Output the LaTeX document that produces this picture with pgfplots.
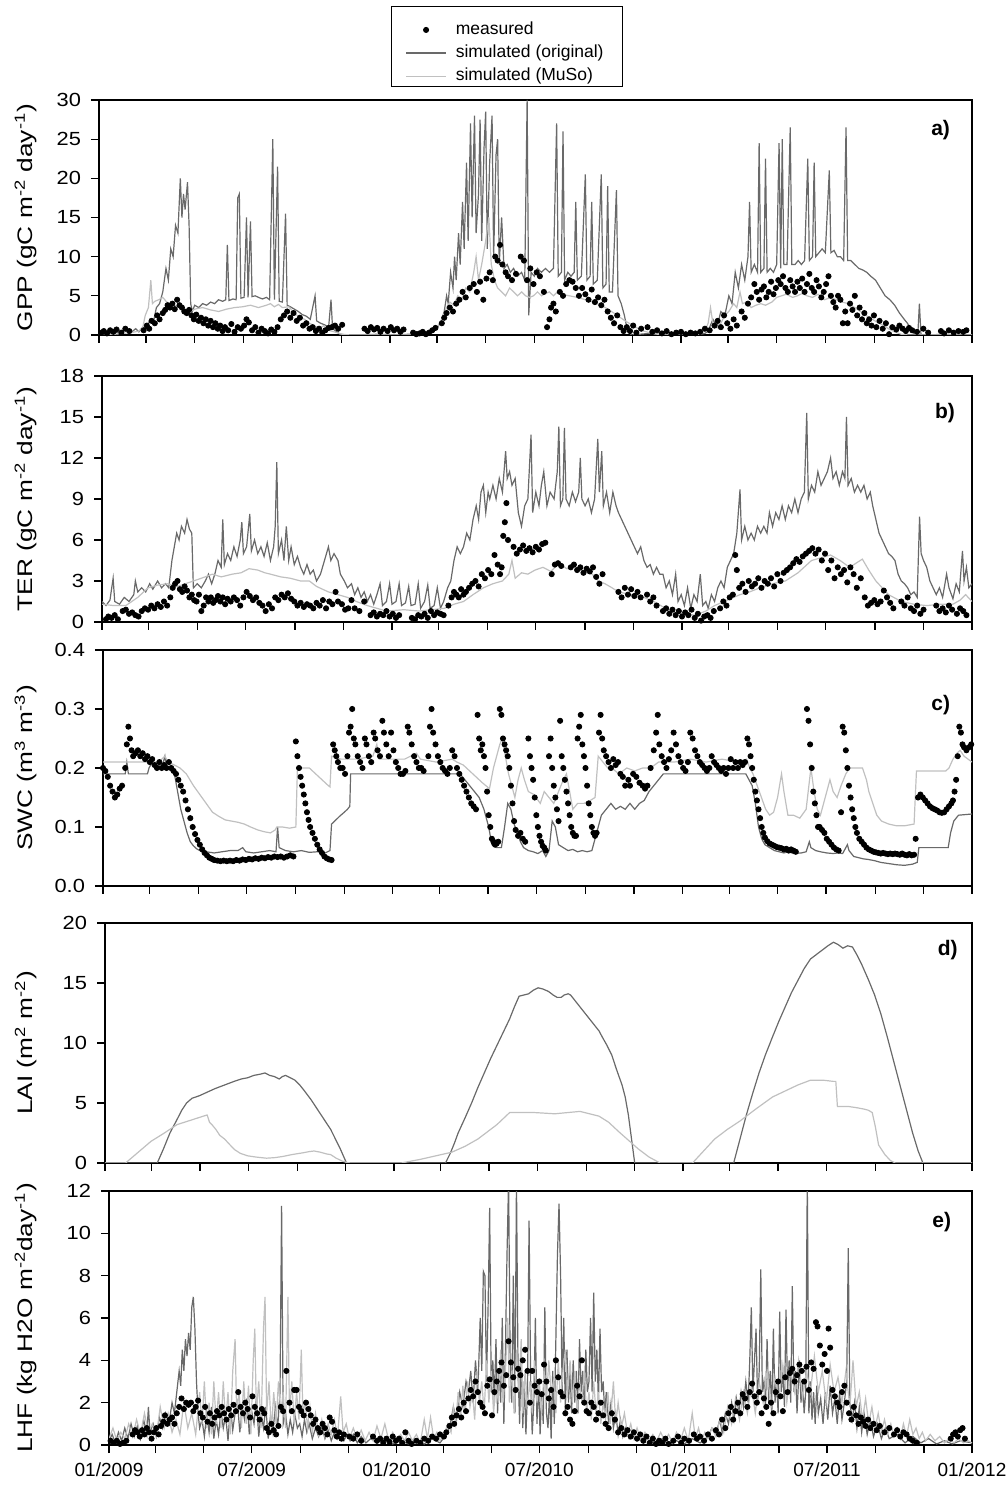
\documentclass[border=0pt]{standalone}
\usepackage{fontspec}
\setmainfont{Liberation Sans}
\newfontfamily\widefont[FakeStretch=1.25]{Liberation Sans}
\newfontfamily\tickfont[FakeStretch=1.15]{Liberation Sans}
\usepackage{pgfplots}
\pgfplotsset{compat=1.18}
\definecolor{darkgr}{RGB}{105,105,105}
\definecolor{lightgr}{RGB}{192,192,192}
\tikzset{plabel/.style={font=\bfseries\fontsize{10.5}{13}\selectfont}}
\pgfplotsset{
  panel/.style={
    scale only axis, anchor=south west,
    xmin=0, xmax=1095,
    xtick={0,59,120,181,243,304,365,424,485,546,608,669,730,789,850,911,973,1034,1095},
    xticklabels={},
    axis line style={line width=0.8pt},
    tick align=outside, xtick pos=bottom, ytick pos=left,
    major tick length=4pt,
    tick style={black, line width=0.6pt},
    /pgf/number format/assume math mode=true,
    tick label style={font=\tickfont\fontsize{9.5}{11}\selectfont},
    yticklabel style={xshift=-1.5pt},
    ylabel style={font=\widefont\fontsize{10.5}{13}\selectfont, anchor=center},
    clip mode=individual,
  },
  dk/.style={color=darkgr, line width=0.6pt, mark=none, forget plot},
  lt/.style={color=lightgr, line width=0.6pt, mark=none, forget plot},
  ms/.style={only marks, mark=*, mark size=1.3pt, black, forget plot},
  longline/.style={legend image code/.code={\draw[##1] (0pt,0pt) -- (20pt,0pt);}},
  dotlegend/.style={legend image code/.code={\fill[black] (10pt,0pt) circle (1.3pt);}},
}
\begin{document}
\begin{tikzpicture}
\useasboundingbox (0,0) rectangle (503pt,744pt);
% ---------------- a) GPP
\begin{axis}[panel, at={(49.5pt,576.5pt)}, width=436.5pt, height=117.5pt,
  ymin=0, ymax=30, ytick={0,5,...,30},
  ylabel={GPP (gC m\textsuperscript{-2} day\textsuperscript{-1})},
  ylabel style={at={(axis description cs:-0.0836,0.5)}},
  legend style={at={(0.3505,1.3483)}, anchor=north west, draw=none, fill=none,
    font=\fontsize{8.75}{10}\selectfont, inner xsep=0pt, inner ysep=0pt, row sep=0.2pt, column sep=3pt,
    nodes={inner sep=1.5pt, text height=6.5pt, text depth=1.9pt}},
  legend cell align=left]
\addlegendimage{dotlegend}
\addlegendentry{measured}
\addlegendimage{darkgr, line width=0.7pt, longline}
\addlegendentry{simulated (original)}
\addlegendimage{lightgr, line width=0.7pt, longline}
\addlegendentry{simulated (MuSo)}
\addplot[dk] coordinates {(0,0.2)(8,0.4)(12,0.1)(18,0.5)(25,0.2)(32,0.6)(40,0.3)(46,0.8)(50,0.4)(55,1.0)(60,0.8)(64,2.0)(68,1.5)(72,3.5)(76,4.0)(80,5.5)(84,8.5)(87,7)(90,11)(93,10)(96,14)(99,13)(102,20)(104,15)(106,18)(108,16)(111,19.5)(113,14)(115,4)(117,3)(120,3.8)(125,3.5)(130,4)(135,3.8)(140,4.2)(145,4)(150,4.5)(155,4.3)(159,4.5)(161,11.5)(163,4.4)(168,4.6)(172,4.5)(174,17.5)(176,18)(178,4.7)(182,4.8)(185,15)(187,4.8)(190,14.5)(192,4.9)(196,5)(200,4.8)(205,4.6)(210,4.8)(214,4.5)(218,25)(220,4.5)(224,21.5)(226,4.3)(230,4.2)(234,15.5)(236,3.8)(240,3.6)(245,3.3)(250,3.0)(255,2.6)(260,2.4)(265,2.0)(271,5)(273,1.8)(278,1.5)(283,1.3)(288,1.0)(291,4.5)(293,0.8)(297,0.5)(302,0.1)(310,0)(330,0)(350,0.1)(370,0)(390,0.1)(405,0)(415,0.3)(420,0.5)(425,1)(430,2)(433,3)(436,5)(438,4)(441,8)(444,6)(446,10)(448,7)(451,13)(453,9)(456,17)(458,11)(461,22)(463,12)(466,27)(468,15)(471,28)(473,13)(476,18)(478,27.5)(480,12)(483,24)(485,28.5)(487,11)(490,22)(493,28)(495,10)(498,23)(500,25)(502,9)(505,15)(508,8.5)(512,9)(516,8)(520,8.5)(525,7.5)(530,8)(534,7)(537,30)(539,2.5)(542,8)(546,7.5)(550,8.5)(555,8)(560,8.5)(565,8)(570,8.5)(574,27)(576,7.5)(580,8)(582,26)(584,7)(588,8)(592,7.5)(596,8)(598,17)(600,7)(605,7.5)(610,20.5)(612,7)(616,7.5)(618,17)(620,6.5)(625,7)(630,20.5)(632,6)(636,6.5)(638,19)(640,5.5)(644,5.5)(649,18.5)(651,5)(655,4)(659,2.5)(663,0.5)(668,0)(690,0.2)(710,0)(730,0.3)(750,0)(760,0.2)(764,0.5)(770,2)(775,1)(780,3)(785,2.5)(790,5)(794,4)(798,8)(802,6)(806,9)(810,7)(814,10)(816,17)(818,8)(822,9)(826,8)(828,24.5)(830,8)(834,8.5)(836,22.5)(838,8)(842,8.5)(846,8)(850,9)(853,24.5)(855,8.5)(857,25)(859,9)(863,9)(867,26.5)(869,9)(873,9)(877,9.5)(881,9)(885,9.5)(889,22.5)(891,9.5)(895,10)(897,22)(899,10)(903,10.5)(907,11)(911,10.5)(916,21)(918,10.5)(922,10.8)(926,10)(930,10)(934,9.5)(937,26.5)(939,9.5)(943,9.5)(948,9)(953,8.5)(958,8.3)(963,8)(968,7.5)(974,7)(980,6)(986,5)(992,4.5)(998,3.8)(1004,2.8)(1010,2)(1014,1.5)(1018,0.8)(1022,0.2)(1027,0)(1029,4)(1031,0)(1040,0)(1060,0.1)(1080,0)(1095,0)};
\addplot[lt] coordinates {(0,0)(20,0.1)(40,0.3)(50,0.5)(55,1)(58,2.5)(62,3.5)(65,7)(67,4)(70,4.3)(75,4.5)(80,4.8)(85,4.2)(90,4.0)(95,3.8)(100,3.5)(105,3.2)(110,3.3)(115,3.0)(120,3.3)(130,3.5)(140,3.2)(150,3.0)(160,3.3)(170,3.5)(180,3.6)(190,3.8)(200,3.5)(210,3.8)(215,4)(220,3.6)(225,3.9)(230,3.5)(238,3.6)(245,2.8)(252,2.2)(258,2.0)(264,1.5)(270,1.2)(276,0.8)(282,1.2)(288,0.6)(295,0.4)(305,0.1)(315,0)(400,0)(410,0.2)(418,0.6)(424,1)(430,2)(436,3.5)(440,4.2)(445,3.8)(450,5)(455,4.5)(460,6)(465,5.5)(470,8)(473,10)(476,7)(480,9)(485,12)(489,15)(492,9)(496,7)(500,6)(505,5.5)(510,5)(515,6)(520,5.5)(525,5)(530,5.5)(535,5)(540,4.8)(545,5)(550,5.5)(555,5)(560,5.3)(565,5.5)(570,5)(575,5.5)(580,5.2)(590,5)(600,4.8)(610,4.5)(620,4.2)(630,3.8)(640,3.2)(650,2.5)(660,1.8)(670,1.2)(680,0.6)(690,0.3)(700,0.1)(710,0)(750,0)(760,0.5)(764,1.5)(767,3.5)(770,1.5)(775,1.0)(780,1.5)(785,2.5)(790,3)(796,4)(800,3.5)(804,5.5)(807,4)(812,4.2)(818,3.5)(824,3.8)(830,4)(836,3.8)(844,4.2)(850,4.8)(856,5)(862,5.2)(870,4.8)(876,5)(882,5.3)(888,5)(895,4.8)(902,5.2)(910,4.5)(918,4.8)(925,4.5)(932,4.2)(940,4.0)(948,3.5)(955,3.0)(962,2.5)(970,2.0)(978,1.5)(985,1.2)(990,0.8)(998,0.4)(1006,0.1)(1015,0)(1095,0)};
\addplot[ms] coordinates {(3,0.3)(6,0.5)(10,0.2)(14,0.6)(18,0.4)(22,0.7)(28,0.3)(33,0.8)(38,0.5)(56,0.6)(60,1.2)(63,0.8)(66,1.8)(70,1.5)(73,2.5)(76,2.0)(80,2.8)(83,3.2)(86,3.8)(89,3.5)(92,4.0)(95,3.3)(98,4.5)(101,3.8)(104,3.5)(107,3.0)(110,2.8)(113,3.2)(116,2.5)(119,2.0)(122,2.6)(125,1.8)(128,2.2)(131,1.5)(134,2.0)(137,1.2)(140,1.8)(143,1.0)(146,1.5)(149,0.8)(152,1.2)(155,0.5)(158,1.0)(162,0.6)(166,1.4)(170,0.4)(174,1.0)(178,0.8)(182,1.2)(185,2.0)(188,1.6)(192,0.6)(196,1.0)(200,0.3)(204,0.8)(208,0.5)(212,0.2)(216,0.7)(220,0.4)(224,1.0)(228,2.0)(232,2.5)(236,3.0)(240,2.2)(244,2.8)(248,1.8)(252,2.2)(256,1.2)(260,1.5)(264,0.8)(268,1.0)(272,0.5)(276,0.8)(280,0.3)(284,0.6)(288,0.9)(292,1.0)(296,1.2)(300,0.8)(305,1.3)(333,0.8)(337,0.5)(341,1.0)(345,0.7)(349,0.9)(353,0.4)(357,0.8)(362,0.5)(366,1.0)(370,0.6)(374,0.8)(378,0.4)(382,0.7)(394,0.3)(398,0.1)(402,0.2)(406,0.4)(410,0.1)(414,0.3)(418,0.6)(422,0.9)(430,1.5)(433,2.2)(436,2.8)(440,3.5)(444,3.0)(448,4.0)(452,4.5)(456,5.5)(460,4.8)(465,6.0)(470,6.5)(474,5.5)(478,6.8)(482,4.5)(486,7.2)(490,8)(494,7)(497,10)(500,9.5)(503,11.5)(506,9)(510,8)(513,7.5)(518,7.0)(523,7.8)(529,10)(533,9.5)(537,7)(541,8.5)(545,6.5)(549,8)(553,7.5)(558,5.5)(562,1)(565,2)(567,3.5)(570,4)(573,3)(578,5.5)(582,5)(586,6.5)(590,7)(594,6.8)(598,6)(602,5)(606,6)(610,5.2)(614,4.5)(618,5.8)(622,4.2)(626,4.8)(630,3.8)(634,4.5)(638,3)(642,2.2)(646,1.5)(650,2.5)(654,1.0)(658,0.5)(662,1.0)(666,0.5)(670,1.2)(674,0.3)(680,0.8)(688,1.0)(694,0.4)(700,0.6)(706,0.2)(712,0.5)(718,0.1)(724,0.3)(730,0.4)(736,0.1)(742,0.3)(748,0.2)(754,0.4)(760,0.8)(766,0.6)(772,1.2)(776,1.8)(780,1.0)(784,2.5)(788,1.5)(792,0.8)(796,2.0)(800,1.2)(806,3.0)(810,2.2)(814,4.0)(818,4.8)(822,6.5)(825,5.5)(828,4.5)(831,5.8)(834,6.2)(837,4.8)(840,5.5)(843,6.8)(846,5.2)(849,6.0)(852,7.0)(855,6.5)(858,7.5)(861,6.0)(864,5.5)(867,7.0)(870,6.2)(873,5.5)(876,6.8)(879,6.0)(882,7.2)(885,5.5)(888,6.5)(891,7.8)(894,6.0)(897,5.5)(900,7.0)(903,6.2)(906,4.8)(909,5.5)(912,6.5)(915,7.5)(918,5.0)(921,4.2)(924,3.5)(927,5.0)(930,4.5)(933,1.5)(936,3.0)(939,1.5)(942,4.0)(945,3.2)(948,5.0)(951,2.5)(954,3.5)(957,2.0)(960,2.8)(963,1.5)(966,2.0)(969,1.2)(972,2.5)(975,1.0)(979,1.8)(983,0.8)(987,1.5)(991,0.1)(995,1.0)(1000,0.7)(1004,1.2)(1008,0.8)(1012,0.5)(1016,0.9)(1020,0.6)(1026,0.4)(1034,0.8)(1040,0.3)(1056,0.5)(1060,0.2)(1066,0.6)(1072,0.3)(1078,0.5)(1084,0.4)(1088,0.6)};
\draw[black, line width=0.5pt] (axis description cs:0.3356,1.0553) rectangle (axis description cs:0.5991,1.3957);
\node[plabel] at (rel axis cs:0.964,0.872) {a)};
\end{axis}
% ---------------- b) TER
\begin{axis}[panel, at={(51pt,433pt)}, width=435pt, height=123pt,
  ymin=0, ymax=18, ytick={0,3,...,18},
  ylabel={TER (gC m\textsuperscript{-2} day\textsuperscript{-1})},
  ylabel style={at={(axis description cs:-0.0874,0.5)}}]
\addplot[dk] coordinates {(0,1.5)(5,1.2)(10,1.6)(14,3.2)(16,1.5)(22,1.3)(28,1.8)(34,1.5)(40,2.0)(42,3.0)(45,2.2)(50,2.5)(55,2.2)(60,2.8)(64,2.4)(70,3.0)(75,2.5)(80,2.8)(84,2.5)(88,4.5)(91,5.5)(94,6.5)(97,6.0)(100,7.0)(104,6.5)(107,7.5)(110,6.8)(113,6.5)(115,2.5)(120,2.8)(125,2.5)(130,3.0)(134,3.5)(138,2.8)(142,3.5)(146,4.5)(150,4.0)(152,7.5)(154,4.2)(158,5.0)(162,4.5)(166,5.5)(170,4.8)(174,6.0)(176,7.3)(178,5.0)(182,5.5)(186,7.9)(188,5.2)(192,6.0)(196,5.0)(200,5.5)(204,4.8)(208,5.8)(212,4.5)(216,5.5)(218,7.0)(220,11.7)(222,5.0)(226,6.0)(229,4.5)(232,7.0)(235,4.5)(238,5.5)(242,4.2)(246,4.8)(250,4.0)(254,3.5)(258,4.2)(262,3.5)(266,3.8)(270,3.0)(275,3.5)(280,4.5)(285,5.5)(288,4.5)(292,5.0)(297,4.5)(300,3.5)(305,3.0)(309,2.5)(314,2.8)(318,2.0)(322,2.5)(326,1.8)(330,2.2)(334,1.5)(338,2.0)(342,1.3)(346,2.0)(350,2.8)(353,1.2)(358,1.5)(362,2.8)(365,1.3)(370,1.5)(374,2.8)(377,1.2)(382,1.4)(386,2.6)(389,1.2)(394,1.3)(398,2.8)(401,1.0)(406,1.5)(410,2.7)(413,1.0)(418,1.2)(422,2.5)(426,1.0)(430,1.5)(435,2.5)(439,3.0)(443,4.5)(447,5.5)(451,5.0)(455,5.5)(459,6.5)(463,6.0)(467,7.5)(471,8.5)(474,7.5)(477,9.5)(480,10.0)(483,8.0)(486,9.5)(488,9.0)(492,10.0)(496,9.0)(500,10.5)(504,9.5)(508,12.5)(510,10.5)(513,11.0)(516,10.0)(520,10.5)(524,8.0)(528,7.0)(532,8.5)(536,9.0)(540,13.7)(542,8.0)(546,9.5)(550,8.5)(553,10.0)(556,11.0)(560,8.5)(564,9.5)(569,9.0)(573,11.0)(575,14.3)(577,8.5)(580,9.0)(582,14.2)(584,9.0)(588,8.5)(592,9.5)(596,8.8)(600,9.5)(602,12.0)(604,9.0)(608,8.5)(612,9.0)(616,8.0)(620,9.0)(624,13.4)(626,9.5)(629,12.5)(631,8.5)(635,9.5)(639,8.0)(643,9.5)(647,8.5)(650,8.0)(654,7.5)(658,7.0)(662,6.5)(666,6.0)(670,5.5)(674,5.0)(678,5.5)(682,4.5)(686,4.0)(690,4.2)(694,3.5)(698,4.0)(702,3.5)(706,3.5)(710,2.5)(714,3.0)(718,2.0)(722,3.5)(725,1.5)(729,2.0)(733,1.2)(737,2.5)(741,1.0)(745,2.0)(749,1.5)(753,3.5)(756,1.2)(760,1.5)(763,1.0)(767,2.0)(771,1.5)(775,2.5)(779,3.0)(783,2.5)(787,4.0)(791,4.5)(795,5.0)(799,6.5)(803,9.7)(805,6.0)(809,7.0)(813,6.0)(817,6.5)(821,6.0)(825,7.0)(829,6.5)(833,7.0)(837,6.5)(840,8.0)(844,7.0)(848,8.0)(852,7.5)(856,8.5)(860,7.5)(864,8.5)(868,8.0)(872,9.0)(876,8.0)(880,9.0)(884,9.5)(887,15.3)(889,9.0)(893,10.0)(897,9.5)(901,11.0)(905,10.0)(909,10.5)(913,11.0)(917,12.0)(920,10.5)(924,11.0)(928,10.0)(932,11.0)(935,10.5)(937,15.0)(939,10.0)(943,10.5)(947,9.5)(951,10.0)(955,9.5)(959,10.0)(963,9.0)(967,9.5)(970,8.5)(974,7.5)(978,6.5)(982,6.0)(986,5.5)(990,5.0)(994,4.8)(998,4.5)(1002,3.5)(1006,3.0)(1010,2.8)(1014,2.5)(1018,2.0)(1022,2.2)(1026,1.8)(1029,7.7)(1031,5.0)(1034,4.5)(1038,4.0)(1042,3.0)(1046,2.5)(1050,2.0)(1054,2.5)(1058,1.8)(1063,3.5)(1066,2.5)(1071,1.7)(1075,2.8)(1079,2.2)(1083,5.2)(1085,3.0)(1088,4.0)(1091,2.5)(1095,2.8)};
\addplot[lt] coordinates {(0,1.3)(15,1.2)(30,1.2)(45,1.8)(58,2.5)(70,2.7)(83,2.8)(95,2.6)(105,2.8)(115,3.0)(125,3.2)(139,3.5)(150,3.3)(164,3.5)(175,3.6)(185,3.9)(196,3.8)(205,3.6)(212,3.5)(225,3.3)(237,3.2)(250,3.0)(261,3.0)(270,2.6)(285,2.2)(297,2.0)(309,1.8)(320,1.5)(334,1.2)(346,1.0)(358,0.8)(380,0.9)(399,0.8)(415,0.9)(431,1.0)(443,1.3)(455,1.5)(467,2.0)(480,2.5)(492,2.8)(504,3.0)(512,3.5)(516,4.5)(520,3.2)(528,3.6)(536,3.5)(545,3.8)(555,4.0)(565,3.7)(575,4.3)(585,3.9)(595,4.0)(601,3.8)(610,3.6)(617,3.5)(625,3.0)(633,2.8)(642,2.5)(650,2.2)(666,2.0)(682,1.8)(698,1.4)(714,0.8)(730,0.6)(747,0.5)(760,0.8)(771,1.2)(787,1.6)(803,2.0)(815,2.2)(828,2.5)(844,2.8)(860,3.0)(876,3.6)(893,4.5)(905,4.7)(917,4.9)(929,4.5)(941,4.0)(949,4.3)(957,4.6)(965,3.8)(974,3.0)(990,2.0)(1006,1.5)(1022,1.3)(1038,1.2)(1055,1.3)(1071,1.3)(1080,1.6)(1087,2.0)(1095,1.5)};
\addplot[ms] coordinates {(5,0.2)(8,0.4)(12,0.3)(16,0.5)(20,0.2)(26,0.8)(30,0.9)(34,0.6)(38,0.7)(42,0.5)(46,0.4)(50,0.8)(54,1.0)(58,0.9)(62,1.2)(66,1.0)(70,1.3)(74,1.1)(78,1.5)(82,1.2)(86,1.8)(89,2.5)(92,2.8)(95,3.0)(98,2.4)(101,2.2)(104,2.6)(107,2.3)(110,1.8)(113,2.0)(116,1.6)(119,1.5)(122,2.0)(125,0.8)(128,1.2)(131,1.8)(134,1.5)(137,1.8)(140,1.4)(143,1.6)(146,1.9)(149,1.5)(152,1.8)(155,1.3)(158,1.7)(162,1.5)(166,1.8)(170,1.6)(174,1.2)(178,1.8)(182,2.2)(186,1.9)(190,1.6)(194,1.8)(198,1.4)(202,1.2)(206,0.8)(210,1.3)(214,1.0)(218,1.8)(222,1.6)(226,2.0)(230,1.8)(234,2.1)(238,1.7)(242,1.5)(246,1.2)(250,1.4)(254,1.1)(258,1.3)(262,1.2)(266,1.0)(270,1.4)(274,1.2)(278,1.6)(282,1.0)(286,1.5)(290,1.3)(294,2.2)(297,1.5)(302,1.3)(306,0.9)(310,1.0)(314,1.6)(318,1.0)(324,0.8)(330,1.5)(338,0.5)(342,0.7)(346,0.4)(350,0.6)(354,0.5)(358,0.8)(362,0.4)(366,0.6)(370,0.3)(374,0.5)(390,0.3)(394,0.2)(398,0.5)(402,0.4)(406,0.6)(410,0.3)(414,0.8)(418,0.5)(422,0.7)(426,0.6)(430,0.5)(436,1.2)(440,1.8)(443,2.2)(446,2.0)(449,1.8)(452,2.4)(455,2.0)(458,2.2)(462,2.5)(466,2.8)(470,3.0)(474,2.6)(478,3.5)(482,3.2)(486,3.8)(490,3.5)(494,4.9)(498,4.2)(501,3.5)(503,4.0)(505,6.3)(507,7.3)(509,8.7)(511,6.0)(518,5.5)(522,5.0)(526,5.3)(530,5.6)(534,5.2)(538,5.4)(542,5.1)(546,5.5)(550,5.3)(554,5.7)(558,5.8)(566,3.5)(570,4.2)(574,4.3)(578,4.1)(590,4.0)(594,4.2)(598,3.8)(602,4.0)(606,3.6)(610,3.9)(614,3.7)(618,4.0)(622,3.3)(626,2.8)(630,3.5)(650,2.2)(654,1.8)(658,2.5)(662,2.0)(666,2.4)(670,1.9)(674,2.2)(678,1.8)(686,2.0)(690,1.5)(694,1.8)(698,1.2)(706,0.8)(710,1.0)(714,0.6)(718,0.9)(722,0.5)(726,0.8)(730,0.4)(734,0.7)(738,0.5)(742,0.9)(746,0.3)(750,0.6)(754,0.1)(758,0.4)(762,0.5)(766,0.3)(770,0.8)(778,1.0)(782,1.5)(786,1.2)(790,1.8)(794,2.0)(797,4.9)(799,3.8)(802,2.5)(806,2.8)(810,2.2)(814,3.0)(818,2.6)(822,2.8)(826,3.2)(830,2.5)(834,3.0)(838,2.8)(842,3.2)(846,2.6)(850,3.5)(854,3.0)(858,3.6)(862,3.8)(866,4.0)(870,4.3)(874,4.6)(878,4.4)(882,4.8)(886,5.0)(890,5.2)(894,5.4)(898,5.0)(902,5.3)(906,4.5)(910,5.0)(914,3.8)(918,4.5)(922,3.2)(926,4.0)(930,3.5)(934,3.8)(938,2.9)(942,4.0)(946,3.5)(950,2.5)(955,3.2)(960,1.8)(964,1.2)(968,1.4)(972,1.6)(976,1.3)(980,1.5)(984,2.3)(988,1.8)(992,1.4)(996,1.0)(1006,1.5)(1010,1.2)(1014,1.8)(1018,1.0)(1022,0.8)(1026,1.2)(1030,0.6)(1034,0.9)(1050,1.2)(1054,0.8)(1058,1.0)(1062,0.7)(1066,1.2)(1070,0.9)(1076,0.6)(1080,1.0)(1084,0.8)(1088,0.5)};
\node[plabel] at (rel axis cs:0.969,0.85) {b)};
\end{axis}
% ---------------- c) SWC
\begin{axis}[panel, at={(51.5pt,301pt)}, width=434.5pt, height=118pt,
  ymin=0, ymax=0.4, ytick={0,0.1,...,0.4},
  yticklabel style={/pgf/number format/.cd, fixed, fixed zerofill, precision=1},
  ylabel={SWC (m\textsuperscript{3} m\textsuperscript{-3})},
  ylabel style={at={(axis description cs:-0.0886,0.5)}}]
\addplot[dk] coordinates {(0,0.19)(28,0.19)(30,0.21)(32,0.19)(56,0.19)(58,0.2)(62,0.21)(66,0.2)(70,0.205)(74,0.2)(78,0.22)(80,0.2)(86,0.195)(90,0.19)(94,0.16)(98,0.13)(102,0.11)(106,0.09)(110,0.075)(114,0.068)(118,0.063)(122,0.06)(130,0.058)(140,0.056)(150,0.058)(160,0.06)(170,0.06)(176,0.065)(180,0.058)(190,0.056)(200,0.058)(210,0.06)(218,0.058)(220,0.1)(222,0.065)(230,0.06)(240,0.058)(250,0.06)(260,0.057)(270,0.058)(280,0.056)(286,0.06)(288,0.105)(292,0.11)(298,0.118)(304,0.125)(308,0.13)(311,0.135)(312,0.19)(450,0.19)(456,0.18)(462,0.17)(468,0.16)(474,0.15)(480,0.13)(486,0.1)(490,0.07)(496,0.065)(502,0.065)(506,0.1)(510,0.14)(514,0.13)(518,0.105)(522,0.09)(526,0.075)(530,0.065)(536,0.06)(542,0.058)(548,0.055)(554,0.06)(558,0.05)(562,0.06)(566,0.11)(570,0.1)(574,0.07)(580,0.065)(586,0.06)(592,0.062)(598,0.058)(604,0.06)(610,0.058)(616,0.06)(620,0.08)(624,0.1)(628,0.12)(634,0.13)(640,0.14)(646,0.13)(652,0.135)(658,0.13)(664,0.14)(670,0.13)(676,0.14)(682,0.145)(688,0.16)(694,0.17)(700,0.18)(706,0.19)(810,0.19)(814,0.18)(818,0.17)(822,0.14)(826,0.1)(830,0.08)(834,0.07)(840,0.065)(846,0.06)(852,0.058)(858,0.056)(864,0.058)(870,0.055)(880,0.056)(886,0.058)(890,0.075)(892,0.065)(898,0.06)(904,0.058)(912,0.056)(920,0.055)(926,0.056)(932,0.055)(938,0.07)(940,0.06)(946,0.05)(952,0.048)(958,0.046)(964,0.045)(972,0.043)(980,0.04)(990,0.038)(1000,0.036)(1010,0.035)(1020,0.037)(1026,0.04)(1028,0.065)(1065,0.065)(1068,0.09)(1072,0.11)(1078,0.12)(1095,0.122)};
\addplot[lt] coordinates {(0,0.21)(70,0.21)(78,0.22)(82,0.21)(90,0.205)(97,0.2)(105,0.19)(114,0.17)(122,0.155)(130,0.14)(138,0.125)(146,0.118)(154,0.112)(162,0.11)(170,0.108)(178,0.105)(186,0.1)(195,0.095)(203,0.092)(211,0.09)(217,0.095)(219,0.1)(226,0.1)(235,0.098)(243,0.1)(245,0.2)(252,0.2)(260,0.2)(268,0.19)(276,0.18)(284,0.17)(286,0.168)(288,0.22)(300,0.215)(320,0.215)(340,0.22)(345,0.24)(348,0.215)(380,0.215)(395,0.225)(400,0.215)(420,0.21)(440,0.215)(446,0.21)(454,0.205)(462,0.195)(470,0.185)(478,0.175)(487,0.165)(492,0.2)(496,0.22)(500,0.24)(503,0.25)(507,0.22)(511,0.19)(515,0.17)(519,0.15)(523,0.18)(527,0.2)(531,0.18)(536,0.16)(543,0.155)(551,0.14)(556,0.16)(562,0.15)(568,0.14)(574,0.16)(580,0.18)(584,0.19)(588,0.16)(592,0.13)(598,0.14)(606,0.14)(614,0.145)(620,0.15)(624,0.22)(630,0.21)(636,0.2)(641,0.2)(650,0.19)(660,0.2)(670,0.195)(680,0.2)(690,0.2)(700,0.21)(720,0.21)(740,0.215)(760,0.21)(780,0.215)(800,0.21)(811,0.215)(815,0.2)(819,0.19)(823,0.175)(827,0.16)(831,0.145)(835,0.13)(840,0.12)(845,0.125)(850,0.15)(855,0.19)(858,0.16)(863,0.12)(870,0.12)(878,0.115)(886,0.13)(892,0.2)(896,0.16)(900,0.13)(904,0.12)(910,0.15)(916,0.18)(920,0.16)(925,0.15)(930,0.17)(936,0.19)(941,0.2)(950,0.2)(957,0.2)(962,0.18)(965,0.16)(970,0.14)(975,0.12)(981,0.11)(990,0.105)(1000,0.102)(1010,0.102)(1022,0.105)(1025,0.195)(1062,0.195)(1066,0.2)(1071,0.215)(1076,0.225)(1080,0.23)(1085,0.22)(1095,0.21)};
\addplot[ms] coordinates {(0,0.2)(3,0.195)(6,0.185)(9,0.17)(12,0.16)(15,0.15)(18,0.155)(21,0.165)(24,0.17)(28,0.2)(30,0.24)(32,0.27)(34,0.25)(36,0.23)(38,0.22)(41,0.225)(44,0.23)(47,0.22)(50,0.225)(53,0.215)(56,0.22)(59,0.21)(62,0.215)(65,0.205)(68,0.2)(71,0.21)(74,0.2)(77,0.205)(80,0.2)(83,0.21)(86,0.2)(89,0.195)(92,0.19)(95,0.18)(98,0.17)(101,0.16)(104,0.145)(107,0.13)(110,0.115)(113,0.1)(116,0.088)(119,0.078)(122,0.07)(125,0.062)(128,0.056)(131,0.052)(134,0.048)(137,0.046)(140,0.044)(144,0.043)(148,0.042)(152,0.043)(156,0.042)(160,0.043)(164,0.042)(168,0.044)(172,0.043)(176,0.045)(180,0.044)(184,0.046)(188,0.045)(192,0.047)(196,0.046)(200,0.048)(204,0.047)(208,0.049)(212,0.048)(216,0.05)(220,0.049)(224,0.05)(228,0.048)(232,0.05)(236,0.052)(240,0.05)(243,0.245)(245,0.22)(247,0.2)(249,0.185)(251,0.17)(253,0.155)(255,0.14)(257,0.125)(259,0.112)(261,0.1)(264,0.09)(267,0.08)(270,0.07)(273,0.062)(276,0.056)(279,0.05)(282,0.047)(285,0.045)(288,0.044)(290,0.24)(292,0.23)(294,0.22)(296,0.21)(299,0.2)(302,0.2)(305,0.19)(308,0.22)(310,0.26)(312,0.27)(314,0.3)(316,0.25)(318,0.24)(321,0.22)(324,0.21)(327,0.2)(330,0.25)(332,0.24)(335,0.22)(338,0.21)(341,0.26)(343,0.25)(346,0.23)(349,0.22)(352,0.28)(354,0.26)(357,0.24)(360,0.22)(363,0.26)(366,0.23)(369,0.21)(372,0.2)(375,0.19)(378,0.19)(381,0.195)(384,0.27)(386,0.26)(389,0.24)(392,0.22)(395,0.21)(398,0.2)(401,0.2)(404,0.195)(410,0.22)(412,0.27)(414,0.3)(416,0.26)(419,0.24)(422,0.22)(425,0.21)(428,0.2)(431,0.195)(434,0.19)(437,0.2)(440,0.23)(443,0.22)(446,0.2)(449,0.19)(452,0.18)(455,0.17)(458,0.16)(461,0.15)(464,0.14)(467,0.135)(470,0.13)(472,0.29)(474,0.25)(476,0.23)(478,0.24)(480,0.22)(482,0.2)(484,0.16)(486,0.12)(488,0.1)(490,0.08)(492,0.075)(494,0.07)(496,0.072)(498,0.075)(500,0.3)(502,0.29)(504,0.25)(506,0.24)(508,0.23)(510,0.22)(512,0.2)(514,0.17)(516,0.14)(518,0.11)(520,0.095)(523,0.085)(526,0.09)(529,0.08)(532,0.075)(536,0.25)(538,0.22)(540,0.2)(542,0.18)(544,0.15)(546,0.12)(548,0.1)(550,0.085)(552,0.075)(554,0.068)(556,0.065)(558,0.06)(562,0.22)(564,0.25)(566,0.2)(568,0.17)(570,0.15)(572,0.13)(574,0.11)(576,0.28)(578,0.22)(580,0.2)(582,0.18)(584,0.16)(586,0.14)(588,0.12)(590,0.1)(592,0.09)(594,0.085)(596,0.085)(598,0.25)(600,0.27)(602,0.29)(604,0.24)(606,0.22)(608,0.2)(610,0.17)(612,0.14)(614,0.12)(616,0.1)(618,0.09)(620,0.085)(622,0.09)(625,0.26)(627,0.29)(629,0.25)(631,0.23)(634,0.22)(637,0.21)(640,0.2)(643,0.215)(646,0.205)(649,0.21)(652,0.19)(655,0.185)(658,0.17)(662,0.18)(664,0.17)(668,0.19)(672,0.185)(676,0.175)(680,0.17)(683,0.165)(686,0.17)(690,0.2)(694,0.23)(697,0.26)(699,0.29)(701,0.24)(704,0.22)(707,0.21)(710,0.2)(713,0.215)(716,0.23)(719,0.26)(722,0.24)(725,0.22)(728,0.21)(731,0.2)(734,0.195)(737,0.21)(740,0.26)(743,0.25)(746,0.23)(749,0.22)(752,0.21)(755,0.205)(758,0.2)(761,0.195)(764,0.2)(767,0.22)(770,0.21)(773,0.205)(776,0.2)(779,0.195)(782,0.2)(785,0.19)(788,0.2)(791,0.215)(794,0.2)(797,0.21)(800,0.2)(803,0.21)(806,0.205)(809,0.21)(812,0.25)(814,0.24)(816,0.22)(818,0.2)(820,0.18)(822,0.16)(824,0.145)(826,0.13)(828,0.115)(830,0.1)(832,0.09)(834,0.082)(837,0.076)(840,0.072)(843,0.07)(846,0.068)(849,0.066)(852,0.065)(855,0.064)(858,0.062)(861,0.063)(864,0.06)(867,0.062)(870,0.06)(873,0.058)(887,0.3)(889,0.28)(891,0.24)(893,0.2)(895,0.16)(897,0.14)(899,0.12)(901,0.1)(903,0.1)(906,0.095)(909,0.09)(912,0.08)(915,0.075)(918,0.07)(921,0.065)(924,0.062)(927,0.06)(930,0.125)(932,0.27)(934,0.26)(936,0.23)(938,0.2)(940,0.17)(942,0.15)(944,0.13)(946,0.115)(948,0.1)(950,0.09)(953,0.08)(956,0.075)(959,0.07)(962,0.065)(965,0.062)(968,0.06)(971,0.058)(974,0.057)(977,0.056)(980,0.055)(983,0.056)(986,0.055)(989,0.054)(992,0.055)(995,0.054)(998,0.055)(1001,0.054)(1004,0.053)(1007,0.055)(1010,0.053)(1013,0.052)(1016,0.054)(1019,0.052)(1022,0.053)(1024,0.08)(1027,0.15)(1030,0.155)(1033,0.15)(1036,0.145)(1039,0.14)(1042,0.135)(1045,0.132)(1048,0.13)(1051,0.128)(1054,0.125)(1057,0.124)(1060,0.125)(1063,0.13)(1066,0.135)(1069,0.14)(1071,0.145)(1073,0.16)(1075,0.18)(1077,0.22)(1079,0.27)(1081,0.26)(1083,0.24)(1085,0.235)(1088,0.23)(1091,0.235)(1094,0.24)};
\node[plabel] at (rel axis cs:0.964,0.767) {c)};
\end{axis}
% ---------------- d) LAI
\begin{axis}[panel, at={(52.5pt,162.5pt)}, width=433.5pt, height=120pt,
  ymin=0, ymax=20, ytick={0,5,...,20},
  ylabel={LAI (m\textsuperscript{2} m\textsuperscript{-2})},
  ylabel style={at={(axis description cs:-0.0911,0.5)}}]
\addplot[dk] coordinates {(0,0)(66,0)(74,1.2)(82,2.5)(90,3.5)(97,4.4)(103,5.0)(110,5.4)(119,5.6)(129,5.9)(139,6.2)(151,6.5)(163,6.8)(172,7.0)(180,7.1)(188,7.3)(196,7.4)(202,7.5)(208,7.3)(214,7.2)(220,7.0)(224,7.2)(228,7.3)(234,7.1)(240,6.9)(246,6.5)(252,6.0)(260,5.3)(268,4.5)(276,3.7)(285,2.8)(291,2.0)(297,1.2)(301,0.6)(305,0)(430,0)(436,0.8)(441,1.6)(446,2.5)(455,3.8)(463,5.0)(471,6.3)(479,7.5)(487,8.7)(495,9.8)(503,10.9)(511,12.0)(517,13.0)(523,13.9)(529,14.0)(535,14.1)(541,14.4)(547,14.6)(553,14.5)(560,14.3)(566,14.0)(571,13.8)(576,13.8)(580,14.0)(585,14.1)(588,14.0)(594,13.5)(600,13.0)(606,12.5)(612,12.0)(618,11.5)(624,11.0)(628,10.5)(634,9.8)(640,9.0)(646,7.8)(653,6.5)(657,5.5)(661,4.0)(665,2.0)(669,0)(794,0)(798,1.0)(802,2.0)(810,4.0)(818,5.8)(826,7.5)(834,9.0)(843,10.5)(851,11.8)(859,13.0)(867,14.2)(875,15.2)(883,16.2)(891,17.0)(899,17.4)(907,17.8)(913,18.1)(920,18.4)(926,18.2)(932,17.9)(938,18.1)(944,18.0)(950,17.3)(956,16.5)(964,15.3)(972,14.0)(980,12.4)(988,10.5)(996,8.5)(1004,6.5)(1012,4.5)(1020,2.5)(1027,1.0)(1033,0)(1095,0)};
\addplot[lt] coordinates {(0,0)(26,0)(42,0.9)(58,1.8)(75,2.5)(91,3.2)(110,3.6)(124,3.9)(129,4.0)(132,3.4)(135,3.2)(140,2.8)(145,2.3)(151,2.0)(158,1.5)(164,1.1)(171,0.8)(180,0.6)(190,0.5)(204,0.4)(215,0.45)(225,0.55)(236,0.7)(250,0.85)(258,0.95)(264,1.0)(272,0.9)(280,0.75)(285,0.7)(292,0.4)(300,0.15)(305,0.05)(310,0)(374,0)(386,0.15)(398,0.3)(418,0.6)(438,0.9)(455,1.4)(471,2.0)(483,2.6)(495,3.2)(503,3.7)(511,4.2)(527,4.2)(543,4.2)(556,4.15)(568,4.1)(584,4.2)(600,4.3)(612,4.1)(624,3.9)(636,3.4)(649,2.6)(661,1.9)(673,1.2)(687,0.5)(701,0)(742,0)(756,1.0)(770,2.0)(786,2.8)(802,3.5)(822,4.5)(843,5.5)(859,6.0)(875,6.5)(891,6.9)(907,6.9)(920,6.8)(923,6.8)(925,4.7)(940,4.7)(950,4.6)(958,4.5)(964,4.4)(969,4.2)(973,3.0)(977,1.5)(985,0.7)(992,0.2)(998,0)(1095,0)};
\node[plabel] at (rel axis cs:0.972,0.8875) {d)};
\end{axis}
% ---------------- e) LHF
\begin{axis}[panel, at={(54.5pt,21.5pt)}, width=431.5pt, height=127pt,
  ymin=0, ymax=12, ytick={0,2,...,12},
  xticklabels={01/2009,,,07/2009,,,01/2010,,,07/2010,,,01/2011,,,07/2011,,,01/2012},
  xticklabel style={font=\fontsize{9.5}{11}\selectfont, yshift=-1.5pt},
  ylabel={LHF (kg H2O m\textsuperscript{-2}day\textsuperscript{-1})},
  ylabel style={at={(axis description cs:-0.0962,0.5)}}]
\addplot[dk] coordinates {(0,0.2)(4,0.5)(8,0.1)(12,0.6)(16,0.2)(20,0.8)(24,0.3)(28,1.0)(32,0.4)(36,0.9)(40,0.3)(44,1.2)(48,0.5)(50,1.8)(52,0.6)(56,1.0)(60,0.4)(64,1.3)(68,0.8)(72,1.5)(76,1.0)(80,2.0)(83,1.5)(86,2.5)(89,3.5)(91,2.8)(93,4.5)(95,3.5)(97,5.0)(99,4.2)(101,5.3)(103,4.5)(105,6.5)(107,7.0)(109,5.5)(111,3.0)(113,1.5)(115,0.8)(118,1.2)(121,0.4)(124,1.5)(127,0.6)(130,1.8)(133,0.3)(136,1.2)(139,0.5)(142,1.6)(145,0.8)(148,1.4)(151,0.2)(154,1.8)(157,0.7)(160,1.5)(163,2.0)(166,0.6)(169,1.8)(172,1.2)(175,2.2)(178,0.5)(181,1.6)(184,1.0)(187,2.2)(190,0.4)(193,1.5)(196,0.8)(199,1.8)(202,0.3)(205,1.4)(208,0.6)(211,1.8)(214,0.8)(217,2.5)(219,11.3)(221,1.0)(224,1.5)(227,0.5)(230,1.2)(233,0.6)(236,1.4)(239,0.8)(242,1.0)(245,0.4)(248,1.2)(251,0.6)(254,1.0)(258,0.3)(262,0.8)(266,0.4)(270,0.9)(274,0.3)(278,0.7)(282,0.2)(286,0.6)(290,0.3)(294,0.6)(298,0.2)(302,0.5)(306,0.2)(310,0.5)(315,0.1)(320,0.4)(326,0.1)(332,0.3)(340,0.1)(350,0.3)(360,0.05)(370,0.2)(380,0.05)(390,0.2)(400,0.05)(410,0.3)(420,0.1)(428,0.5)(433,1.0)(437,1.8)(441,1.2)(445,2.5)(449,1.8)(453,3.0)(456,2.5)(459,3.5)(462,2.0)(465,4.0)(468,2.5)(471,6.0)(473,3.5)(475,8.2)(477,8.0)(479,3.0)(481,6.5)(483,11.2)(485,2.5)(487,4.0)(489,2.0)(491,5.0)(493,1.5)(495,3.5)(497,2.0)(499,6.0)(501,1.0)(503,4.5)(505,9.0)(507,12.5)(509,4.0)(511,2.0)(513,8.0)(515,1.5)(517,12.5)(519,3.5)(521,1.0)(523,4.5)(525,0.8)(527,3.0)(529,0.5)(531,2.5)(533,10.6)(535,3.0)(537,0.5)(539,2.0)(541,6.0)(543,1.0)(545,3.0)(547,0.5)(549,2.5)(551,1.0)(553,6.5)(555,1.5)(557,0.8)(559,2.5)(561,0.3)(563,3.5)(565,1.0)(567,5.0)(569,9.0)(571,11.4)(573,8.0)(575,2.5)(577,6.0)(579,1.5)(581,4.5)(583,2.0)(585,3.5)(587,1.5)(589,4.0)(591,2.0)(593,3.5)(595,1.5)(597,5.0)(599,2.5)(601,3.5)(603,2.0)(605,4.5)(607,2.5)(609,3.0)(611,6.0)(613,2.5)(615,7.2)(617,3.0)(619,4.5)(621,2.0)(623,5.5)(625,2.5)(627,3.0)(629,1.5)(631,2.5)(634,1.0)(637,2.0)(640,0.8)(643,1.5)(646,0.5)(649,1.2)(652,0.4)(655,0.8)(660,0.3)(665,0.6)(670,0.2)(680,0.4)(690,0.1)(700,0.3)(710,0.05)(720,0.2)(730,0.05)(740,0.3)(750,0.1)(760,0.4)(765,0.8)(770,0.5)(775,1.2)(778,0.6)(782,1.5)(786,1.0)(790,2.0)(793,1.2)(796,2.2)(799,1.5)(802,2.5)(805,1.8)(808,3.0)(811,2.0)(813,4.0)(815,6.5)(817,2.5)(819,4.0)(821,5.5)(823,2.0)(825,3.5)(827,8.3)(829,2.5)(831,3.0)(833,1.8)(835,5.0)(837,2.0)(839,3.5)(841,1.5)(843,5.5)(845,2.0)(847,3.0)(849,1.5)(851,6.3)(853,2.5)(855,3.5)(857,1.8)(859,6.4)(861,2.5)(863,4.0)(865,2.0)(867,7.5)(869,2.5)(871,3.5)(873,1.5)(876,4.0)(878,2.0)(880,3.0)(882,1.5)(884,2.5)(886,12.5)(888,1.5)(890,3.0)(892,1.2)(894,2.5)(896,1.0)(898,2.8)(900,1.5)(903,2.2)(906,1.0)(909,2.5)(912,1.2)(915,2.8)(918,1.5)(921,2.2)(924,1.0)(927,2.5)(930,1.2)(933,2.0)(936,3.0)(938,9.3)(940,2.0)(943,1.2)(946,2.0)(949,0.8)(952,1.8)(955,0.6)(958,1.5)(962,0.5)(966,1.2)(970,0.4)(975,1.0)(980,0.3)(985,0.8)(990,0.3)(1000,0.5)(1010,0.1)(1020,0.4)(1030,0.1)(1040,0.3)(1050,0.05)(1060,0.2)(1070,0.05)(1080,0.2)(1095,0.1)};
\addplot[lt] coordinates {(0,0.3)(5,0.8)(10,0.2)(15,0.6)(20,0.3)(25,1.0)(30,0.4)(35,1.2)(40,0.5)(45,1.5)(50,0.6)(55,1.0)(60,0.4)(65,1.8)(70,0.8)(75,1.5)(80,0.6)(85,1.2)(90,0.5)(95,2.0)(100,0.8)(105,1.5)(110,0.5)(115,2.5)(118,1.0)(121,3.0)(124,0.8)(127,2.0)(130,0.5)(133,3.0)(136,1.0)(139,2.5)(142,0.8)(145,3.0)(148,1.0)(151,2.5)(154,0.5)(157,3.5)(160,5.0)(162,1.5)(165,2.5)(168,0.8)(171,3.0)(174,1.0)(177,2.8)(180,0.5)(183,4.0)(185,5.5)(187,1.5)(190,3.0)(193,0.8)(196,5.5)(198,7.0)(200,1.5)(203,3.0)(206,0.6)(209,2.5)(212,1.0)(215,3.0)(218,1.5)(221,2.5)(224,0.8)(227,7.0)(229,1.5)(232,3.0)(235,1.0)(238,2.5)(241,1.2)(244,4.5)(246,1.5)(249,2.0)(252,0.8)(255,1.8)(258,0.6)(262,1.5)(266,0.5)(270,1.2)(274,0.4)(278,1.0)(282,0.5)(286,1.2)(290,0.4)(294,2.3)(297,0.6)(301,1.0)(305,0.3)(310,0.8)(315,0.3)(320,0.7)(325,0.2)(330,0.6)(335,0.2)(340,0.9)(345,0.3)(350,1.0)(355,0.2)(360,0.6)(365,0.2)(370,0.5)(375,0.2)(380,0.6)(385,0.2)(390,0.5)(395,0.1)(400,1.2)(404,0.3)(408,1.3)(412,0.3)(416,0.6)(420,0.2)(425,0.5)(430,1.0)(434,0.6)(437,1.8)(440,1.0)(443,2.5)(446,1.2)(449,2.8)(452,1.5)(455,3.0)(458,1.8)(461,2.5)(464,1.2)(467,3.5)(470,2.0)(473,3.0)(476,1.5)(479,4.0)(482,2.0)(485,3.5)(488,1.5)(491,3.0)(494,2.0)(497,4.5)(500,2.0)(503,3.5)(506,6.0)(508,2.0)(511,3.5)(514,1.5)(517,4.5)(520,2.5)(523,5.0)(525,1.5)(528,3.5)(531,1.8)(534,3.0)(537,1.5)(540,4.0)(543,2.0)(546,3.0)(549,1.5)(552,3.5)(555,2.0)(558,4.0)(561,2.5)(564,3.0)(567,1.5)(570,4.0)(573,2.0)(576,3.5)(579,4.5)(582,2.5)(585,4.0)(588,2.0)(591,3.5)(594,1.5)(597,3.0)(600,2.0)(603,3.5)(606,1.5)(609,2.5)(612,1.2)(615,3.0)(618,1.5)(621,2.5)(624,1.0)(627,2.0)(630,1.2)(633,2.5)(636,1.0)(640,3.0)(643,1.0)(646,2.0)(650,0.8)(654,1.5)(658,0.5)(662,1.0)(666,0.3)(670,0.8)(675,0.2)(680,0.6)(685,0.2)(690,0.5)(695,0.2)(700,0.6)(705,0.2)(710,0.5)(715,0.1)(720,0.6)(725,0.2)(730,0.8)(735,0.2)(740,1.5)(744,0.3)(748,0.8)(752,0.2)(756,0.6)(760,0.3)(765,0.8)(770,0.4)(775,1.2)(780,0.6)(785,1.8)(790,1.0)(795,2.2)(800,1.2)(805,2.5)(810,1.5)(815,2.8)(820,1.5)(825,3.0)(830,2.0)(835,3.5)(840,1.8)(845,3.2)(850,2.2)(855,3.8)(860,2.0)(865,3.5)(870,2.5)(875,4.0)(880,2.2)(885,3.5)(890,2.5)(895,4.2)(900,2.5)(905,3.5)(910,2.0)(915,3.8)(920,2.5)(925,3.2)(930,2.0)(935,3.5)(940,1.8)(944,4.0)(948,1.8)(952,2.5)(956,1.2)(960,2.2)(964,1.0)(968,1.8)(972,0.8)(976,1.5)(980,0.6)(984,1.2)(988,0.5)(992,1.0)(996,0.4)(1000,0.8)(1004,0.3)(1008,1.0)(1012,0.4)(1016,1.2)(1020,0.5)(1024,0.8)(1028,0.3)(1032,0.6)(1036,0.2)(1042,0.5)(1048,0.2)(1054,0.4)(1060,0.1)(1066,0.3)(1072,0.1)(1078,0.3)(1084,0.1)(1090,0.2)(1095,0.1)};
\addplot[ms] coordinates {(2,0.2)(6,0.1)(10,0.2)(14,0.05)(18,0.1)(22,0.2)(30,0.5)(33,0.7)(36,0.6)(39,0.4)(42,0.7)(45,0.5)(48,0.8)(51,0.6)(54,0.3)(57,0.6)(60,0.8)(63,0.5)(66,0.9)(69,1.1)(71,1.4)(74,1.0)(77,1.2)(80,1.3)(83,1.0)(86,1.5)(89,1.8)(92,2.2)(95,1.7)(98,2.0)(101,1.9)(104,2.0)(107,1.6)(110,1.8)(113,2.1)(116,1.5)(119,1.3)(122,1.8)(125,1.1)(128,1.5)(131,1.0)(134,1.3)(137,1.6)(140,1.4)(143,1.8)(146,1.5)(149,1.2)(152,1.7)(155,1.4)(158,1.9)(161,1.6)(164,2.5)(167,1.8)(170,1.5)(173,2.0)(176,1.7)(179,1.3)(182,2.3)(185,1.8)(188,1.5)(191,1.2)(194,1.7)(197,1.5)(200,0.8)(203,0.6)(206,1.0)(209,0.7)(212,0.5)(215,0.9)(218,1.8)(221,1.6)(225,3.5)(229,2.0)(232,1.6)(235,2.6)(238,2.6)(241,1.8)(244,1.6)(247,1.4)(250,2.0)(253,1.7)(256,1.4)(259,1.0)(262,1.2)(265,0.8)(268,0.6)(271,1.0)(274,0.8)(277,0.5)(280,1.3)(283,1.1)(286,0.7)(289,0.4)(292,0.6)(295,0.3)(298,0.5)(305,0.4)(310,0.3)(315,0.5)(320,0.2)(335,0.4)(340,0.2)(344,0.3)(348,0.1)(352,0.3)(356,0.15)(360,0.4)(364,0.2)(368,0.3)(372,0.1)(376,0.6)(380,0.2)(384,0.05)(390,0.2)(395,0.1)(400,0.3)(405,0.2)(410,0.4)(415,0.3)(420,0.5)(425,0.4)(428,0.6)(432,0.9)(435,1.3)(438,1.0)(441,1.4)(444,1.7)(447,1.3)(450,2.0)(453,1.6)(456,2.2)(459,2.6)(462,2.3)(465,3.0)(468,2.5)(471,2.0)(474,1.8)(477,1.5)(480,2.8)(483,3.1)(486,1.4)(489,2.5)(492,3.0)(495,3.5)(498,3.9)(501,2.8)(504,3.3)(507,4.9)(510,3.9)(513,3.2)(516,2.6)(519,3.6)(522,3.3)(525,4.0)(528,4.5)(531,3.5)(534,2.0)(537,3.5)(540,2.8)(543,2.5)(546,3.0)(549,2.4)(552,3.8)(555,3.0)(558,2.2)(561,2.6)(564,1.8)(567,4.0)(570,3.2)(573,2.5)(576,2.3)(579,1.5)(582,1.8)(585,1.2)(588,1.0)(591,1.6)(594,2.8)(597,2.3)(600,4.0)(603,2.0)(606,1.6)(609,1.5)(612,2.0)(615,1.8)(618,1.2)(621,1.5)(624,2.0)(627,1.4)(630,1.0)(634,0.8)(638,1.5)(642,1.2)(646,0.6)(650,0.8)(654,0.5)(658,0.7)(662,0.4)(666,0.6)(670,0.3)(674,0.5)(678,0.2)(682,0.4)(686,0.1)(690,0.3)(694,0.05)(698,0.2)(702,0.1)(706,0.3)(710,0.05)(716,0.2)(722,0.4)(726,0.1)(730,0.3)(736,0.2)(742,0.5)(746,0.3)(750,0.4)(755,0.2)(760,0.5)(765,0.3)(770,0.7)(774,0.5)(778,1.2)(782,0.8)(786,1.5)(789,1.8)(792,1.2)(795,1.6)(798,2.0)(801,1.5)(804,2.4)(807,2.2)(810,1.8)(813,2.5)(816,2.9)(819,2.3)(822,2.0)(825,2.5)(828,1.5)(831,2.2)(834,1.8)(837,1.0)(840,2.0)(843,1.5)(846,2.5)(849,3.0)(852,2.3)(855,1.6)(858,3.2)(861,2.5)(864,3.4)(867,3.6)(870,3.0)(873,3.3)(876,3.8)(879,3.5)(882,3.0)(885,3.7)(888,2.6)(891,3.9)(894,3.6)(897,5.8)(899,5.6)(902,4.7)(905,3.8)(908,4.3)(911,3.5)(913,5.5)(915,4.6)(918,2.6)(921,2.3)(924,2.0)(927,1.8)(930,2.5)(933,2.8)(936,2.0)(939,1.5)(942,1.2)(945,1.8)(948,1.4)(951,1.0)(954,1.3)(957,1.1)(960,0.9)(963,1.2)(966,0.8)(970,1.0)(974,0.7)(978,0.9)(984,0.6)(990,0.8)(996,0.5)(1000,0.7)(1004,0.4)(1008,0.6)(1012,0.5)(1016,0.3)(1020,0.2)(1025,0.1)(1068,0.3)(1071,0.5)(1074,0.6)(1077,0.4)(1080,0.7)(1083,0.8)(1086,0.3)};
\node[plabel] at (rel axis cs:0.965,0.878) {e)};
\end{axis}
\end{tikzpicture}
\end{document}
